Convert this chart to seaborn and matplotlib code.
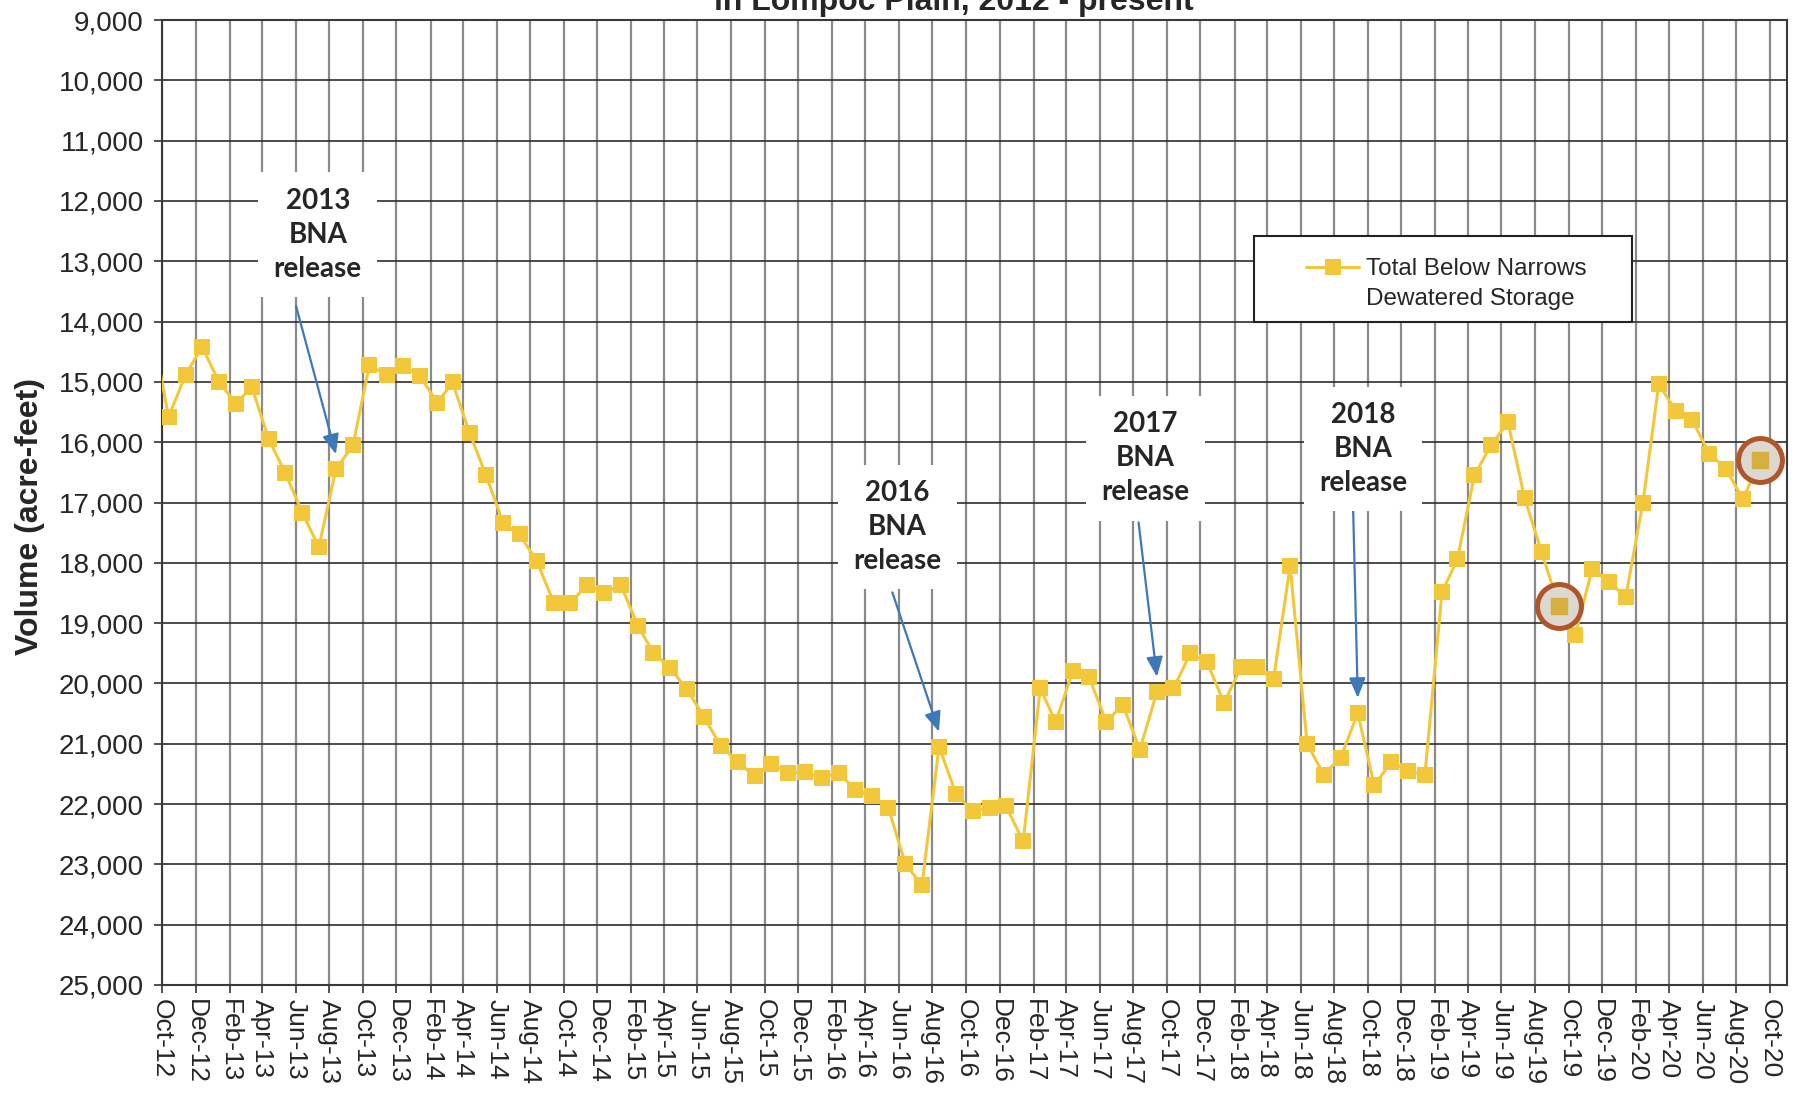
import matplotlib
matplotlib.use("Agg")
import matplotlib.dates as mdates
import matplotlib.pyplot as plt
import pandas as pd
import seaborn as sns
from matplotlib.lines import Line2D
from matplotlib.patches import Rectangle
from matplotlib.ticker import FuncFormatter

# Total Below Narrows dewatered storage (acre-feet), one reading per month.
# the Sep-12 reading sits just left of the axis, only its line segment shows
storage_2012 = [14130, 15580, 14880, 14420]
storage_2013 = [15010, 15360, 15080, 15950, 16510, 17170, 17740, 16450, 16050, 14720, 14890, 14740]
storage_2014 = [14900, 15350, 15010, 15850, 16550, 17340, 17530, 17970, 18660, 18670, 18360, 18500]
storage_2015 = [18370, 19050, 19490, 19750, 20100, 20560, 21030, 21300, 21540, 21340, 21480, 21470]
storage_2016 = [21560, 21480, 21760, 21870, 22070, 22990, 23350, 21050, 21830, 22120, 22060, 22040]
storage_2017 = [22620, 20080, 20640, 19800, 19900, 20640, 20350, 21100, 20140, 20080, 19500, 19650]
storage_2018 = [20320, 19730, 19730, 19920, 18050, 21000, 21510, 21230, 20490, 21690, 21300, 21450]
storage_2019 = [21510, 18490, 17940, 16550, 16050, 15670, 16920, 17820, 18710, 19200, 18100, 18310]
storage_2020 = [18560, 17010, 15040, 15480, 15640, 16190, 16440, 16950, 16290]

release_months = ["2013-08", "2016-08", "2017-09", "2018-09"]
release_labels = ["2013\nBNA\nrelease", "2016\nBNA\nrelease", "2017\nBNA\nrelease", "2018\nBNA\nrelease"]
circled_months = ["2019-09", "2020-09"]
legend_lines = ["Total Below Narrows", "Dewatered Storage"]

storage = (storage_2012 + storage_2013 + storage_2014 + storage_2015 + storage_2016
           + storage_2017 + storage_2018 + storage_2019 + storage_2020)
months = pd.date_range("2012-09-01", periods=len(storage), freq="MS") + pd.Timedelta(days=12)
df = pd.DataFrame({"month": months, "storage": storage})
df["key"] = df["month"].dt.strftime("%Y-%m")

GOLD = "#F2C83A"
BLUE = "#3E78B8"
x_start = pd.Timestamp("2012-10-01")
x_end = pd.Timestamp("2020-11-01")


def at(m):
    # position m months after the left edge of the axis, as a date number
    return mdates.date2num(x_start + pd.Timedelta(days=m * 30.44))


sns.set_style("white")
plt.rcParams["font.family"] = ["Liberation Sans", "DejaVu Sans"]

fig = plt.figure(figsize=(18.02, 11.06), dpi=100)
ax = fig.add_axes([162 / 1802, 1 - 985 / 1106, 1625 / 1802, 965 / 1106])

sns.lineplot(data=df, x="month", y="storage", ax=ax, color=GOLD, lw=2.2,
             marker="s", markersize=12, markeredgewidth=0, zorder=3)

circ = df[df["key"].isin(circled_months)]
ax.scatter(mdates.date2num(circ["month"]), circ["storage"], s=1000, facecolor="#dcd8cf",
           edgecolor="#B0562B", linewidths=3.6, zorder=4)
ax.scatter(mdates.date2num(circ["month"]), circ["storage"], s=144, marker="s",
           color="#D6AF3E", zorder=5)

ax.set_xlim(x_start, x_end)
ax.xaxis.set_major_locator(mdates.MonthLocator(bymonth=[2, 4, 6, 8, 10, 12]))
ax.xaxis.set_major_formatter(mdates.DateFormatter("%b-%y"))
ax.set_ylim(25000, 9000)
ax.set_yticks(range(9000, 25001, 1000))
ax.yaxis.set_major_formatter(FuncFormatter(lambda v, p: f"{v:,.0f}"))

ax.set_axisbelow(True)
ax.grid(axis="x", color="#8a8a8a", lw=1.6)
ax.grid(axis="y", color="#2e2e2e", lw=1.2)
for s in ax.spines.values():
    s.set_visible(True)
    s.set_color("#3a3a3a")
    s.set_linewidth(1.5)

ax.tick_params(axis="both", direction="out", length=6, width=1.2, color="#333",
               pad=4, bottom=True, left=True)
ax.tick_params(axis="y", labelsize=20, pad=7)
ax.tick_params(axis="x", labelsize=19, labelrotation=-90)

ax.set_xlabel("")
ax.set_ylabel("Volume (acre-feet)", fontsize=23, fontweight="bold")
ax.yaxis.set_label_coords(-0.072, 0.485)

# release notes with arrows to the marker of that month
box_centers = [(9.3, 12560), (43.9, 17410), (58.7, 16270), (71.7, 16110)]
arrow_starts = [(8.0, 13740), (43.6, 18490), (58.3, 17330), (71.1, 17010)]
for label, key, (cm, cy), (sm, sy) in zip(release_labels, release_months, box_centers, arrow_starts):
    row = df[df["key"] == key].iloc[0]
    tip = (mdates.date2num(row["month"]), row["storage"] - 250)
    ax.annotate("", xy=tip, xytext=(at(sm), sy), zorder=6,
                arrowprops=dict(arrowstyle="-|>,head_length=1.2,head_width=0.5",
                                color=BLUE, lw=1.6, shrinkA=0, shrinkB=0))
    ax.text(at(cm), cy, label, ha="center", va="center", fontsize=20, fontweight="bold",
            family=["Lato", "DejaVu Sans"], linespacing=1.38, zorder=7,
            bbox=dict(boxstyle="square,pad=0.55", fc="white", ec="none"))

handles = [Line2D([], [], color=GOLD, lw=2.2, marker="s", markersize=12, markeredgewidth=0),
           Line2D([], [], color="none")]
leg = ax.legend(handles, legend_lines, loc="upper left", bbox_to_anchor=(0.704, 0.753),
                frameon=False, fontsize=17.5, handlelength=2.2, handletextpad=0.25,
                labelspacing=0.3, borderpad=0, borderaxespad=0)
leg.set_zorder(9)
ax.add_patch(Rectangle((0.672, 0.687), 0.2326, 0.0891, transform=ax.transAxes,
                       fc="white", ec="#222", lw=1.5, zorder=8))

# the first title line is cut off by the top of the page
fig.text(954 / 1802, 1 - 10 / 1106, "in Lompoc Plain, 2012 - present", ha="center",
         va="baseline", fontsize=23, fontweight="bold")

fig.savefig("out.png", dpi=100)
